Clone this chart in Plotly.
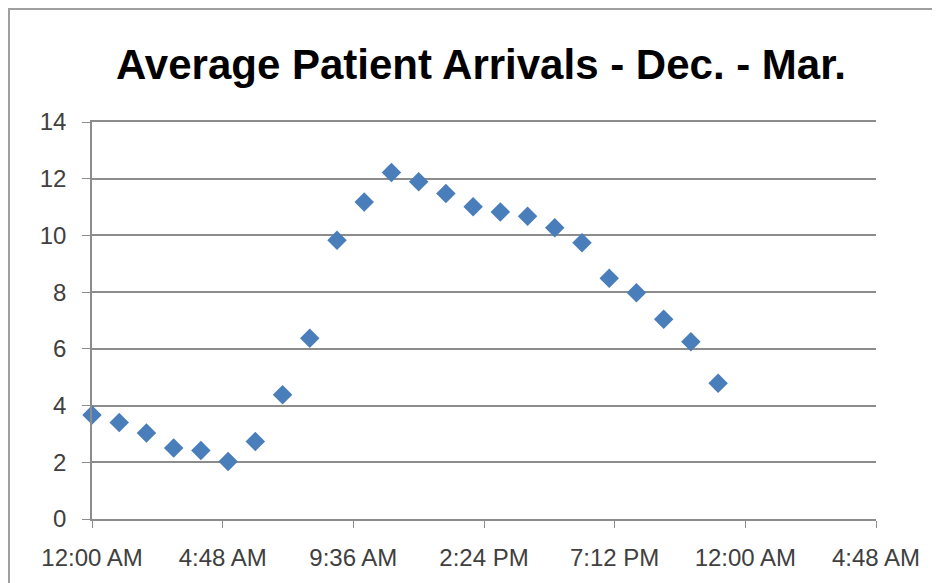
import plotly.graph_objects as go

hours = list(range(24))
arrivals = [3.67, 3.40, 3.03, 2.50, 2.42, 2.03, 2.73, 4.38, 6.37, 9.83, 11.18, 12.22,
            11.89, 11.48, 11.01, 10.83, 10.68, 10.27, 9.74, 8.49, 7.98, 7.04, 6.25, 4.79]
x_tick_vals = [0, 4.8, 9.6, 14.4, 19.2, 24, 28.8]
x_tick_text = ["12:00 AM", "4:48 AM", "9:36 AM", "2:24 PM", "7:12 PM", "12:00 AM", "4:48 AM"]
y_tick_vals = [0, 2, 4, 6, 8, 10, 12, 14]
title_text = "Average Patient Arrivals - Dec. - Mar."

OFF = 8  # default body margin of the page
W, H = 940 - OFF, 583 - OFF
L, R, T, B = 92 - OFF, 64, 122 - OFF, 64
PW, PH = W - L - R, H - T - B

fig = go.Figure()
fig.add_trace(go.Scatter(
    x=hours, y=arrivals, mode="markers", cliponaxis=False,
    marker=dict(symbol="diamond", size=15, color="#4A7EBB",
                line=dict(width=0)),
    showlegend=False, hoverinfo="x+y"))

font_ticks = dict(family="Liberation Sans, Arial, sans-serif", size=24, color="#404040")

fig.update_layout(
    width=W, height=H,
    margin=dict(l=L, r=R, t=T, b=B, pad=0),
    paper_bgcolor="white", plot_bgcolor="white",
    title=dict(text="<b>" + title_text + "</b>", x=(481 - OFF) / W, xanchor="center",
               y=1 - (64 - OFF) / H, yanchor="middle",
               font=dict(family="Liberation Sans, Arial, sans-serif",
                         size=42, color="black")),
    xaxis=dict(range=[0, 28.8], tickvals=x_tick_vals, ticktext=x_tick_text,
               showgrid=False, zeroline=False, showline=True, linecolor="#8C8C8C",
               linewidth=1.5, mirror=True, ticks="outside", ticklen=7, tickcolor="#8C8C8C",
               tickfont=font_ticks, ticklabelstandoff=9, fixedrange=True),
    yaxis=dict(range=[0, 14], tickvals=y_tick_vals, showgrid=True, gridcolor="#8C8C8C",
               gridwidth=1.5, zeroline=False, showline=True, linecolor="#8C8C8C",
               linewidth=1.5, ticks="outside", ticklen=8, tickcolor="#8C8C8C",
               tickfont=font_ticks, ticklabelstandoff=11, fixedrange=True),
    shapes=[dict(type="rect", xref="paper", yref="paper",
                 x0=-(L - 1) / PW, x1=1.3,
                 y0=-0.4, y1=1 + (T - 1) / PH,
                 line=dict(color="#A0A0A0", width=2), fillcolor="rgba(0,0,0,0)", layer="below")],
)

fig.write_html("out.html")
